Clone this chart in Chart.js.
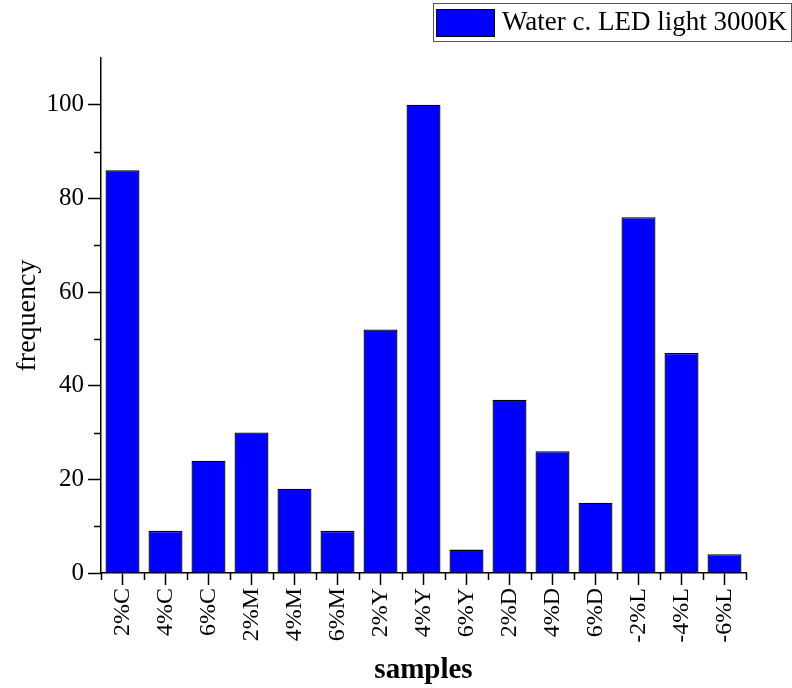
<!DOCTYPE html>
<html>
<head>
<meta charset="utf-8">
<script src="https://cdn.jsdelivr.net/npm/chart.js@4.4.1/dist/chart.umd.min.js"></script>
<style>
    body { margin: 0; background: #fff; }
    canvas { display: block; }
</style>
</head>
<body>
<canvas id="grafico" width="792" height="688"></canvas>
<script>
const amostras = ["2%C", "4%C", "6%C", "2%M", "4%M", "6%M", "2%Y", "4%Y", "6%Y", "2%D", "4%D", "6%D", "-2%L", "-4%L", "-6%L"];
const frequencias = [86, 9, 24, 30, 18, 9, 52, 100, 5, 37, 26, 15, 76, 47, 4];
const rotuloSerie = "Water c. LED light 3000K";
const ticksY = [0, 20, 40, 60, 80, 100];
const ticksMenoresY = [10, 30, 50, 70, 90];

const fonte = "'Liberation Serif', 'Times New Roman', serif";

// ticks menores e legenda com caixa
const extras = {
    id: "extras",
    afterDraw(chart) {
        const ctx = chart.ctx;
        const x = chart.scales.x;
        const y = chart.scales.y;
        ctx.save();
        ctx.strokeStyle = "#000";
        ctx.lineWidth = 1.5;
        ticksMenoresY.forEach(v => {
            const py = Math.round(y.getPixelForValue(v)) + 0.5;
            ctx.beginPath();
            ctx.moveTo(y.right - 7, py);
            ctx.lineTo(y.right, py);
            ctx.stroke();
        });
        for (let i = 0; i <= amostras.length; i++) {
            const px = Math.round(x.getPixelForValue(i - 0.5)) + 0.5;
            ctx.beginPath();
            ctx.moveTo(px, x.top);
            ctx.lineTo(px, x.top + 7);
            ctx.stroke();
        }

        // legenda
        ctx.font = "27px " + fonte;
        const larguraTexto = ctx.measureText(rotuloSerie).width;
        const direita = 791;
        const esquerda = direita - larguraTexto - 73;
        ctx.lineWidth = 1;
        ctx.strokeStyle = "#555";
        ctx.strokeRect(esquerda + 0.5, 3.5, direita - esquerda, 38);
        ctx.fillStyle = "#0000ff";
        ctx.fillRect(esquerda + 3, 9, 59, 28);
        ctx.strokeStyle = "#000";
        ctx.strokeRect(esquerda + 3.5, 9.5, 58, 27);
        ctx.fillStyle = "#000";
        ctx.textBaseline = "middle";
        ctx.fillText(rotuloSerie, esquerda + 69, 23);
        ctx.restore();
    }
};

new Chart(document.getElementById("grafico"), {
    type: "bar",
    data: {
        labels: amostras,
        datasets: [{
            label: rotuloSerie,
            data: frequencias,
            backgroundColor: "#0000ff",
            borderColor: "#000",
            borderWidth: 1.3,
            barPercentage: 0.79,
            categoryPercentage: 1
        }]
    },
    options: {
        responsive: false,
        animation: false,
        layout: { padding: { top: 58, right: 46, left: 0, bottom: 0 } },
        plugins: {
            legend: { display: false },
            tooltip: { enabled: false }
        },
        scales: {
            x: {
                offset: true,
                grid: { drawOnChartArea: false, offset: false, tickLength: 12, color: "#000", tickWidth: 1.5 },
                border: { display: true, color: "#000", width: 1.5 },
                ticks: { color: "#000", font: { family: fonte, size: 24 }, minRotation: 90, maxRotation: 90, padding: 3 },
                title: { display: true, text: "samples", color: "#000", font: { family: fonte, size: 29, weight: "bold" }, padding: { top: 0, bottom: 0 } },
                afterFit(s) { s.height = 115; }
            },
            y: {
                min: 0,
                max: 110,
                afterBuildTicks(s) { s.ticks = ticksY.map(v => ({ value: v })); },
                grid: { drawOnChartArea: false, tickLength: 13, color: "#000", tickWidth: 1.5 },
                border: { display: true, color: "#000", width: 1.5 },
                ticks: { color: "#000", font: { family: fonte, size: 25 }, padding: 4 },
                title: { display: true, text: "frequency", color: "#000", font: { family: fonte, size: 28 }, padding: { top: 11, bottom: 0 } },
                afterFit(s) { s.width = 101; }
            }
        }
    },
    plugins: [extras]
});
</script>
</body>
</html>
